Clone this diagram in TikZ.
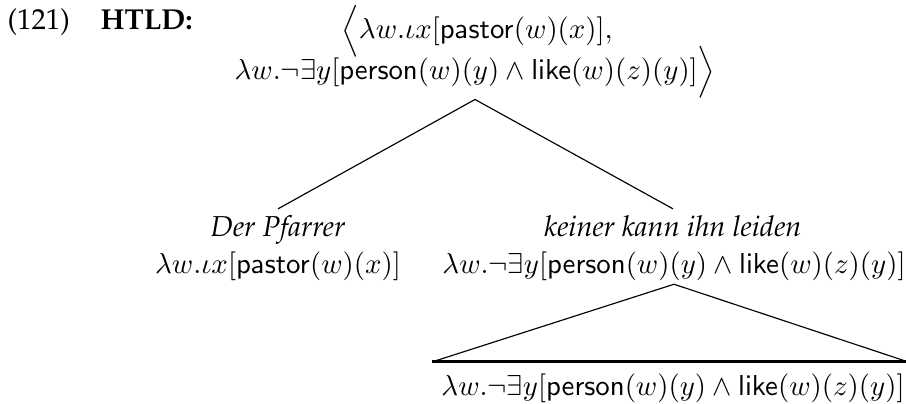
\documentclass[tikz,border=0pt]{standalone}
\usepackage[T1]{fontenc}
\renewcommand{\rmdefault}{ppl}
\begin{document}
\begin{tikzpicture}[x=0.347pt,y=-0.347pt,
  txt/.style={inner sep=0pt,anchor=base},
  edge/.style={line width=0.4pt},
  roof/.style={line width=1pt}]
\useasboundingbox (0,0) rectangle (906,403);
\node[txt,anchor=base west] (num) at (7,29) {(121)};
\node[txt,anchor=base west] (lab) at (100,29) {\textbf{HTLD:}};
\node[txt] (t1) at (477,38) {$\Big\langle\lambda w.\iota x[\mathsf{pastor}(w)(x)],$};
\node[txt] (t2) at (475,79) {$\lambda w.\neg\exists y[\mathsf{person}(w)(y)\wedge\mathsf{like}(w)(z)(y)]\Big\rangle$};
\node[txt] (pf1) at (278,236) {\textit{Der Pfarrer}};
\node[txt] (pf2) at (278,273) {$\lambda w.\iota x[\mathsf{pastor}(w)(x)]$};
\node[txt] (kn1) at (673,236) {\textit{keiner kann ihn leiden}};
\node[txt] (kn2) at (674,273) {$\lambda w.\neg\exists y[\mathsf{person}(w)(y)\wedge\mathsf{like}(w)(z)(y)]$};
\node[txt] (bt) at (673,395) {$\lambda w.\neg\exists y[\mathsf{person}(w)(y)\wedge\mathsf{like}(w)(z)(y)]$};
\coordinate (apex1) at ([yshift=-0.4pt]t2.south);
\coordinate (lf) at ([yshift=2pt]pf1.north);
\coordinate (rf) at ([yshift=2pt]kn1.north);
\coordinate (apex2) at ([yshift=-1.2pt]kn2.south);
\coordinate (bl) at ([xshift=-3pt,yshift=3.8pt]bt.north west);
\coordinate (br) at ([xshift=1pt,yshift=3.8pt]bt.north east);
\draw[edge] (lf) -- (apex1) -- (rf);
\draw[edge] (bl) -- (apex2) -- (br);
\draw[roof] (bl) -- (br);
\end{tikzpicture}
\end{document}
